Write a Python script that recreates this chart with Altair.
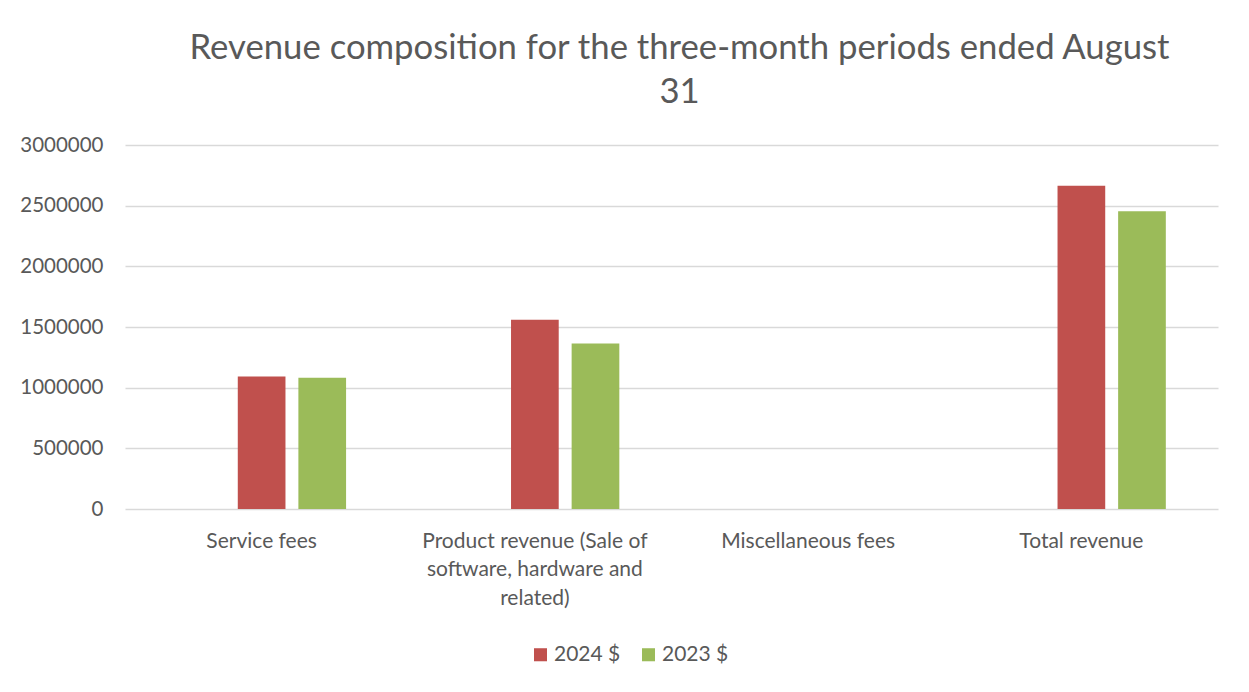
import altair as alt
import pandas as pd

categories = [
    "Service fees",
    "Product revenue (Sale of software, hardware and related)",
    "Miscellaneous fees",
    "Total revenue",
]
series_slots = ["Note", "2024 $", "2023 $"]
series_shown = ["2024 $", "2023 $"]
values_2024 = [1093000, 1560000, 0, 2665000]
values_2023 = [1082000, 1363000, 0, 2453000]
y_ticks = [0, 500000, 1000000, 1500000, 2000000, 2500000, 3000000]
colors = ["#C0504D", "#9BBB59"]

rows = []
for c, v in zip(categories, values_2024):
    rows.append({"category": c, "series": "2024 $", "value": v})
for c, v in zip(categories, values_2023):
    rows.append({"category": c, "series": "2023 $", "value": v})
df = pd.DataFrame(rows)

FONT = "Lato"
TXT = "#595959"

label_expr = (
    "datum.value == 'Product revenue (Sale of software, hardware and related)' "
    "? ['Product revenue (Sale of', 'software, hardware and', 'related)'] : datum.value"
)

chart = (
    alt.Chart(df)
    .mark_bar()
    .encode(
        x=alt.X(
            "category:N",
            sort=categories,
            scale=alt.Scale(paddingInner=0, paddingOuter=0),
            axis=alt.Axis(
                title=None,
                labelAngle=0,
                labelExpr=label_expr,
                labelFont=FONT,
                labelFontSize=21,
                labelColor=TXT,
                labelLineHeight=28.5,
                labelPadding=21,
                ticks=False,
                domain=False,
                grid=False,
                labelLimit=400,
            ),
        ),
        xOffset=alt.XOffset(
            "series:N",
            scale=alt.Scale(domain=series_slots, paddingInner=0.213, paddingOuter=0.861),
        ),
        y=alt.Y(
            "value:Q",
            scale=alt.Scale(domain=[0, 3000000], nice=False),
            axis=alt.Axis(
                title=None,
                values=y_ticks,
                format="d",
                labelFont=FONT,
                labelFontSize=20.5,
                labelColor=TXT,
                labelPadding=22,
                ticks=False,
                domain=False,
                grid=True,
                gridColor="#D9D9D9",
                gridWidth=1.5,
            ),
        ),
        color=alt.Color(
            "series:N",
            scale=alt.Scale(domain=series_shown, range=colors),
            legend=alt.Legend(
                title=None,
                orient="none",
                direction="horizontal",
                legendX=405,
                legendY=499,
                symbolType="square",
                symbolSize=170,
                symbolStrokeWidth=0,
                labelFont=FONT,
                labelFontSize=21,
                labelColor=TXT,
                labelOffset=3,
                columnPadding=17,
                padding=0,
            ),
        ),
    )
    .properties(
        width=1093,
        height=364,
        padding={"left": 117, "top": 137, "right": 23, "bottom": 175},
        autosize=alt.AutoSizeParams(type="none"),
        title=alt.TitleParams(
            text=["Revenue composition for the three-month periods ended August", "31"],
            font=FONT,
            fontSize=34.7,
            fontWeight="normal",
            color=TXT,
            lineHeight=44,
            anchor="middle",
            dx=8,
            offset=24,
        ),
    )
    .configure(background="white")
    .configure_view(stroke="transparent", strokeWidth=0)
)

chart.save("out.html", embed_options={"renderer": "svg", "actions": False})
